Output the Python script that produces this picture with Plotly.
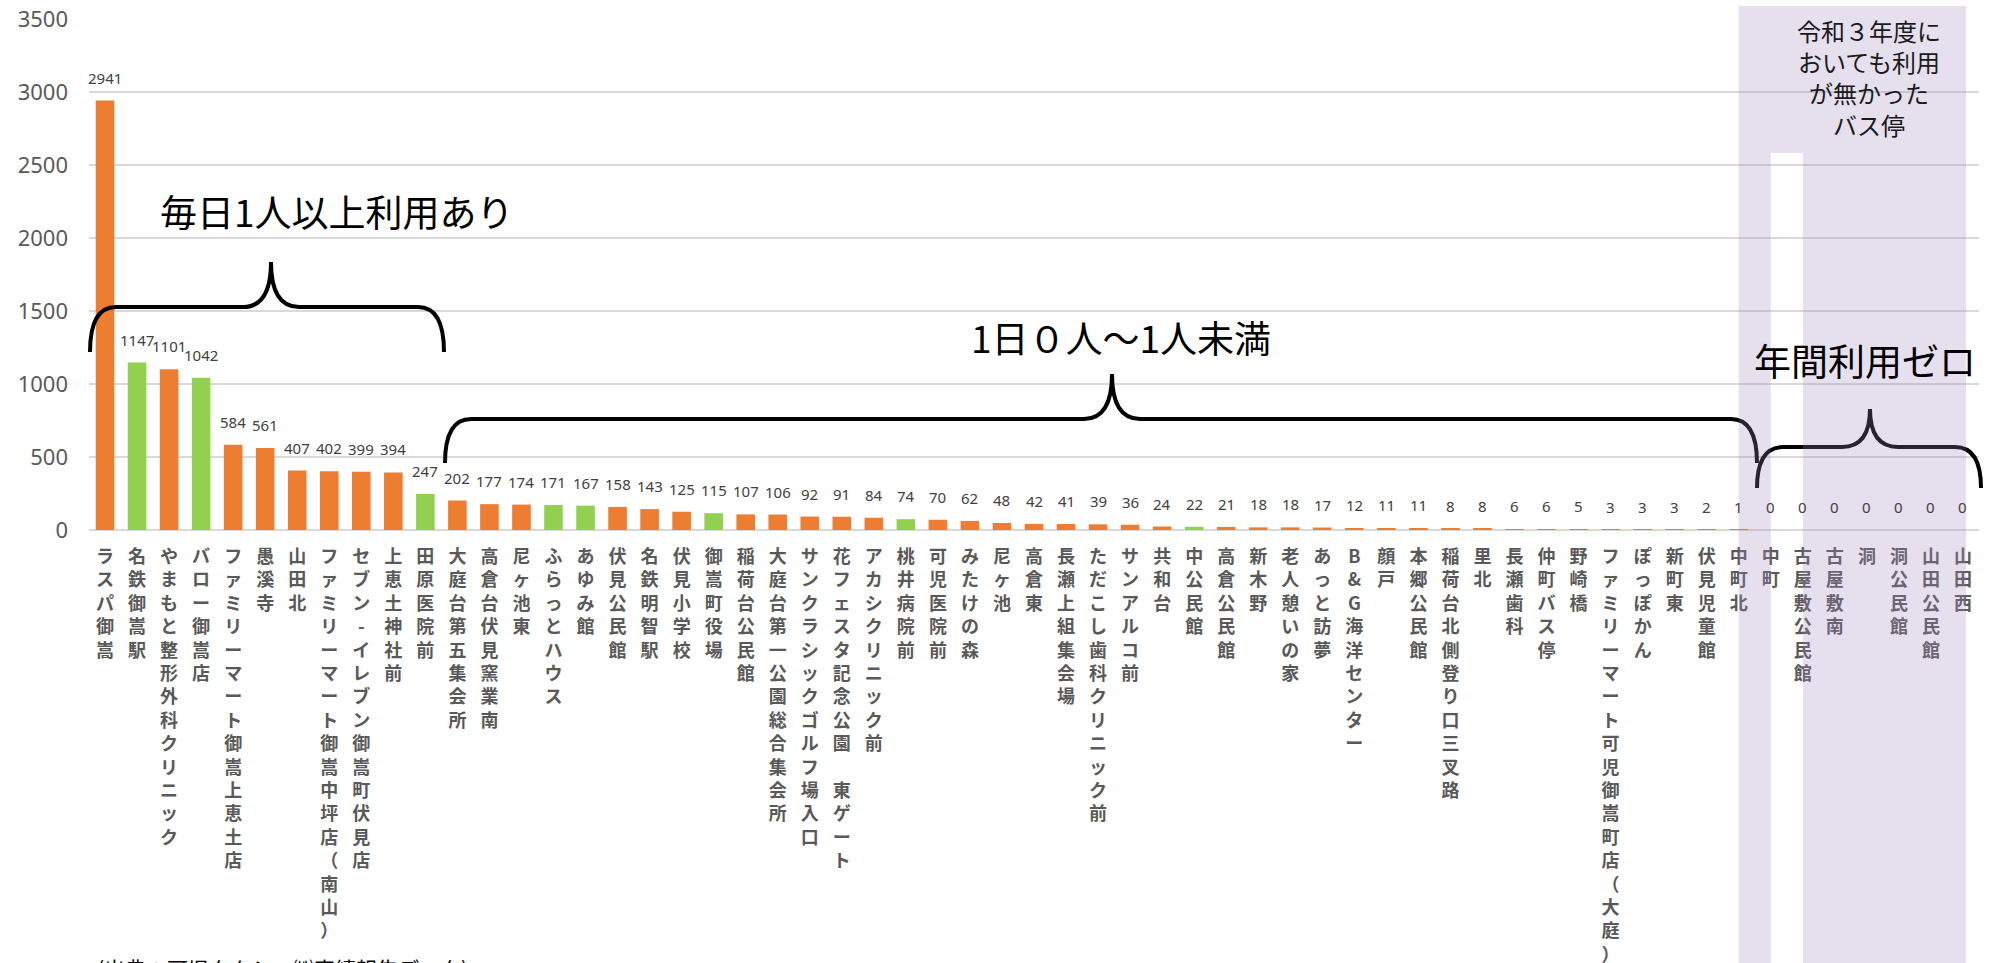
import plotly.graph_objects as go

# ---------------- data ----------------
stops = [
    "ラスパ御嵩", "名鉄御嵩駅", "やまもと整形外科クリニック", "バロー御嵩店",
    "ファミリーマート御嵩上恵土店", "愚溪寺", "山田北", "ファミリーマート御嵩中坪店（南山）",
    "セブン-イレブン御嵩町伏見店", "上恵土神社前", "田原医院前", "大庭台第五集会所",
    "高倉台伏見窯業南", "尼ヶ池東", "ふらっとハウス", "あゆみ館", "伏見公民館",
    "名鉄明智駅", "伏見小学校", "御嵩町役場", "稲荷台公民館", "大庭台第一公園総合集会所",
    "サンクラシックゴルフ場入口", "花フェスタ記念公園 東ゲート", "アカシクリニック前",
    "桃井病院前", "可児医院前", "みたけの森", "尼ヶ池", "高倉東", "長瀬上組集会場",
    "ただこし歯科クリニック前", "サンアルコ前", "共和台", "中公民館", "高倉公民館",
    "新木野", "老人憩いの家", "あっと訪夢", "B&G海洋センター", "顔戸", "本郷公民館",
    "稲荷台北側登り口三叉路", "里北", "長瀬歯科", "仲町バス停", "野崎橋",
    "ファミリーマート可児御嵩町店（大庭）", "ぽっぽかん", "新町東", "伏見児童館", "中町北",
    "中町", "古屋敷公民館", "古屋敷南", "洞", "洞公民館", "山田公民館", "山田西",
]
riders = [
    2941, 1147, 1101, 1042, 584, 561, 407, 402, 399, 394, 247, 202, 177, 174, 171, 167,
    158, 143, 125, 115, 107, 106, 92, 91, 84, 74, 70, 62, 48, 42, 41, 39, 36, 24, 22,
    21, 18, 18, 17, 12, 11, 11, 8, 8, 6, 6, 5, 3, 3, 3, 2, 1, 0, 0, 0, 0, 0, 0, 0,
]
green_stops = ["名鉄御嵩駅", "バロー御嵩店", "田原医院前", "ふらっとハウス", "あゆみ館",
               "御嵩町役場", "桃井病院前", "中公民館"]
y_ticks = [0, 500, 1000, 1500, 2000, 2500, 3000, 3500]

group_labels = ["毎日1人以上利用あり", "1日０人～1人未満", "年間利用ゼロ"]
box_label = "令和３年度に<br>おいても利用<br>が無かった<br>バス停"
source_note = "(出典：可児タクシー㈱実績報告データ)"

ORANGE = "#ED7D31"
GREEN = "#92D050"

# ---------------- layout geometry (pixels) ----------------
W, H = 1993, 963
L, R, T, B = 89, 14, 19, 433
PW, PH = W - L - R, H - T - B
n = len(stops)


def px(x, y):
    return (x - L) / PW, (H - B - y) / PH


def idx_paper(i):
    # paper x of category boundary at index i + 0.5 (axis range -0.5 .. n-0.5)
    return (i + 0.5) / n


colors = [GREEN if s in green_stops else ORANGE for s in stops]

fig = go.Figure()
fig.add_trace(go.Bar(
    x=stops, y=riders, marker=dict(color=colors, line=dict(width=0)),
    hoverinfo="x+y",
))

annotations = []
for s, v in zip(stops, riders):
    annotations.append(dict(
        x=s, y=v, xref="x", yref="y", text=str(v), showarrow=False,
        yshift=23, yanchor="middle",
        font=dict(family="Noto Sans", size=15, color="#404040"),
    ))

# group labels
for (cx, cy), txt in zip([(337, 211), (1121, 337), (1865, 360)], group_labels):
    xp, yp = px(cx, cy)
    annotations.append(dict(
        x=xp, y=yp, xref="paper", yref="paper", text=txt, showarrow=False,
        xanchor="center", yanchor="middle",
        font=dict(family="Noto Sans CJK JP", size=37, color="#000000"),
    ))

bx, by = px(1869, 77)
annotations.append(dict(
    x=bx, y=by, xref="paper", yref="paper", text=box_label, showarrow=False,
    xanchor="center", yanchor="middle",
    font=dict(family="Noto Sans CJK JP", size=24, color="#1a1a1a"),
))

nx, ny = px(95, 951)
annotations.append(dict(
    x=nx, y=ny, xref="paper", yref="paper", text=source_note, showarrow=False,
    xanchor="left", yanchor="top",
    font=dict(family="Noto Sans CJK JP", size=21, color="#000000"),
))


def brace(xl, xr, xt, yb, yh, yt, rx=26, rt=28):
    pts = [
        ("M", [(xl, yb)]),
        ("Q", [(xl, yh), (xl + rx, yh)]),
        ("L", [(xt - rt, yh)]),
        ("Q", [(xt, yh), (xt, yt)]),
        ("Q", [(xt, yh), (xt + rt, yh)]),
        ("L", [(xr - rx, yh)]),
        ("Q", [(xr, yh), (xr, yb)]),
    ]
    parts = []
    for cmd, pp in pts:
        coords = " ".join("%.5f,%.5f" % px(a, b) for a, b in pp)
        parts.append(cmd + " " + coords)
    return dict(type="path", xref="paper", yref="paper", path=" ".join(parts),
                line=dict(color="#000000", width=4), layer="above")


shapes = [
    brace(90, 444, 271, 352, 307, 262),
    brace(445, 1757, 1112, 463, 419, 374),
    brace(1757, 1981, 1870, 488, 447, 409),
]

# purple overlay for stops with zero use in previous year
i_first = stops.index("中町")
i_gap = stops.index("古屋敷公民館")
_, y_top = px(0, 6)
_, y_bot = px(0, H)
_, y_gap = px(0, 153)
purple = dict(fillcolor="rgb(160,130,190)", opacity=0.26, line=dict(width=0),
              layer="above", xref="paper", yref="paper", type="rect")
shapes.append(dict(purple, x0=idx_paper(i_first - 1), x1=idx_paper(i_gap - 1), y0=y_bot, y1=y_top))
shapes.append(dict(purple, x0=idx_paper(i_gap - 1), x1=idx_paper(i_gap), y0=y_gap, y1=y_top))
shapes.append(dict(purple, x0=idx_paper(i_gap), x1=idx_paper(n - 1) + 0.0016, y0=y_bot, y1=y_top))

ticktext = ["<br>".join(list(s)) for s in stops]

fig.update_layout(
    width=W, height=H,
    margin=dict(l=L, r=R, t=T, b=B, autoexpand=False),
    paper_bgcolor="white", plot_bgcolor="white",
    showlegend=False, bargap=0.42,
    annotations=annotations, shapes=shapes,
    xaxis=dict(
        type="category", range=[-0.5, n - 0.5],
        tickmode="array", tickvals=stops, ticktext=ticktext, tickangle=0,
        tickfont=dict(family="Noto Sans CJK JP", size=18, color="#595959", weight="bold"),
        showgrid=False, showline=False, ticks="", zeroline=False,
        ticklabelstandoff=14, automargin=False,
    ),
    yaxis=dict(
        range=[0, 3500], tickmode="array", tickvals=y_ticks,
        tickfont=dict(family="Noto Sans", size=22, color="#595959"),
        showgrid=True, gridcolor="#D9D9D9", gridwidth=1.6,
        zeroline=True, zerolinecolor="#D9D9D9", zerolinewidth=2,
        showline=False, ticks="", ticklabelstandoff=20, automargin=False,
    ),
)

fig.write_html(
    "out.html",
    config={"displayModeBar": False},
    post_script="document.body.style.margin='0';document.body.style.overflow='hidden';",
)
